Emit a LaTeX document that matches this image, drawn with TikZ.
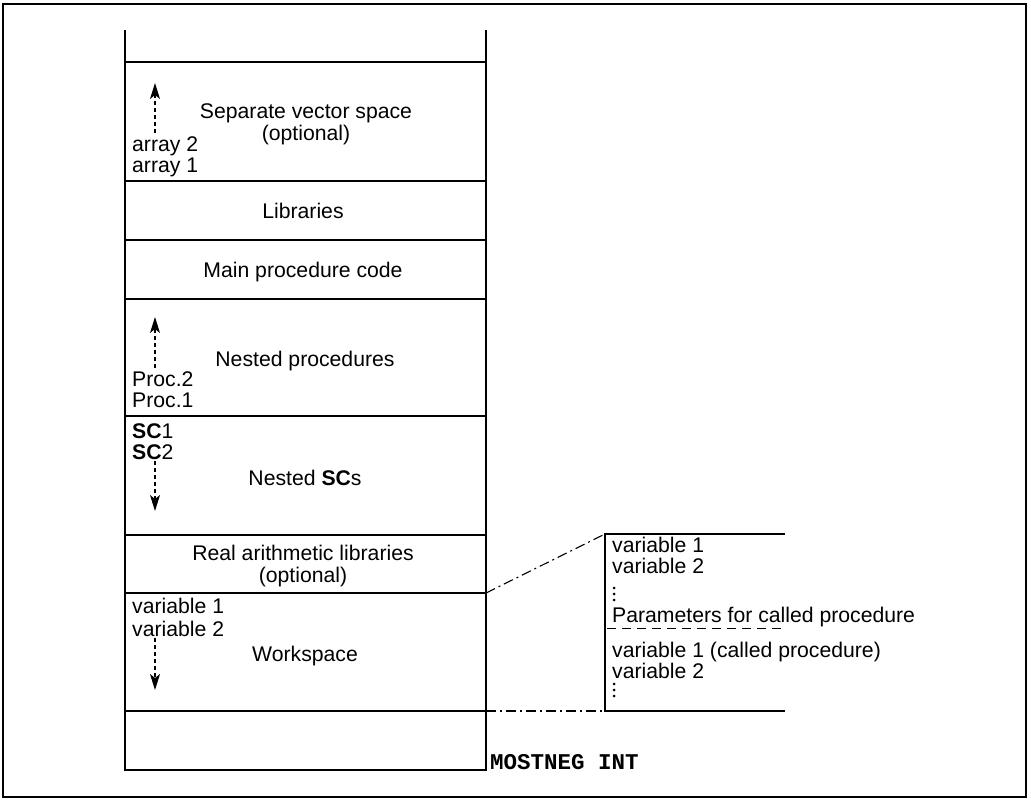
\documentclass[tikz,border=0pt]{standalone}
\usepackage{fontspec}
\setmainfont{Liberation Sans}
\newfontfamily\codefont{Liberation Mono}
\usetikzlibrary{arrows.meta}
\begin{document}
\begin{tikzpicture}[x=1pt,y=-1pt,
  rule/.style={line width=1.4pt},
  thinrule/.style={line width=1.2pt},
  dashdot/.style={line width=1.1pt, dash pattern=on 10pt off 4pt on 2pt off 4pt},
  sep/.style={line width=1pt, dash pattern=on 9pt off 6pt},
  growth/.style={line width=1.3pt, dash pattern=on 4pt off 3pt,
    -{Stealth[length=16pt,width=10pt,inset=4pt]}},
  lbl/.style={font=\fontsize{21.2}{23}\selectfont, inner sep=0pt, anchor=base},
  lft/.style={lbl, anchor=base west},
  spot/.style={circle, fill, inner sep=0pt, minimum size=3pt}]

\useasboundingbox (0,0) rectangle (1031,800);

% page frame
\draw[line width=1.6pt] (3,4) rectangle (1026,797);

% memory stack edges
\coordinate (tl) at (125,30);
\coordinate (tr) at (486,30);
\coordinate (bl) at (125,770);
\coordinate (br) at (486,770);
\draw[rule] (tl) -- (bl) -- (br) -- (tr);

% boundaries between areas
\foreach \n/\y in {a/62,b/181,c/240,d/299,e/416,f/535,g/593,h/711}{
  \coordinate (\n L) at (125,\y);
  \coordinate (\n R) at (486,\y);
  \draw[rule] (\n L) -- (\n R);
}

% separate vector space
\node[lbl] (vec1) at (306,118) {Separate vector space};
\node[lbl] (vec2) at (306,140) {(optional)};
\node[lft] (arr2) at (132,151) {array 2};
\node[lft] (arr1) at (132,172) {array 1};
\coordinate (arrtip) at (155,83);
\draw[growth] ([xshift=23pt,yshift=3pt]arr2.north west) -- (arrtip);

% libraries and main code
\node[lbl] (libs) at (303,218) {Libraries};
\node[lbl] (mainc) at (303,277) {Main procedure code};

% nested procedures
\node[lbl] (nproc) at (305,366) {Nested procedures};
\node[lft] (proc2) at (132,386) {Proc.2};
\node[lft] (proc1) at (132,407) {Proc.1};
\coordinate (proctip) at (155,317);
\draw[growth] ([xshift=23pt,yshift=3pt]proc2.north west) -- (proctip);

% nested SCs
\node[lft] (sc1) at (132,438) {\textbf{SC}1};
\node[lft] (sc2) at (132,459) {\textbf{SC}2};
\node[lbl] (nsc) at (305,485) {Nested \textbf{SC}s};
\coordinate (sctip) at (155,511);
\draw[growth] ([xshift=23pt,yshift=-2pt]sc2.south west) -- (sctip);

% real arithmetic libraries
\node[lbl] (ral1) at (303,560) {Real arithmetic libraries};
\node[lbl] (ral2) at (303,582) {(optional)};

% workspace
\node[lft] (wv1) at (132,613) {variable 1};
\node[lft] (wv2) at (132,636) {variable 2};
\node[lbl] (wsp) at (305,661) {Workspace};
\coordinate (wstip) at (155,690);
\draw[growth] ([xshift=23pt,yshift=-2pt]wv2.south west) -- (wstip);

% expanded view of a workspace frame
\coordinate (xt) at (605,534);
\coordinate (xte) at (785,534);
\coordinate (xb) at (605,711);
\coordinate (xbe) at (785,711);
\draw[thinrule] (xte) -- (xt) -- (xb) -- (xbe);
\draw[dashdot] (gR) -- (xt);
\draw[dashdot] (hR) -- (xb);

\node[lft] (xv1) at (612,552) {variable 1};
\node[lft] (xv2) at (612,573) {variable 2};
\foreach \y in {588,594,600} \node[spot] at (614,\y) {};
\node[lft] (xpar) at (612,622) {Parameters for called procedure};
\coordinate (sepL) at (607,628);
\coordinate (sepR) at (785,628);
\draw[sep] (sepL) -- (sepR);
\node[lft] (xc1) at (612,657) {variable 1 (called procedure)};
\node[lft] (xc2) at (612,678) {variable 2};
\foreach \y in {684,690,696} \node[spot] at (614,\y) {};

% lowest address
\node[inner sep=0pt, anchor=base west, font=\codefont\bfseries\fontsize{22.5}{24}\selectfont] (mneg) at (490,769) {MOSTNEG INT};

\end{tikzpicture}
\end{document}
